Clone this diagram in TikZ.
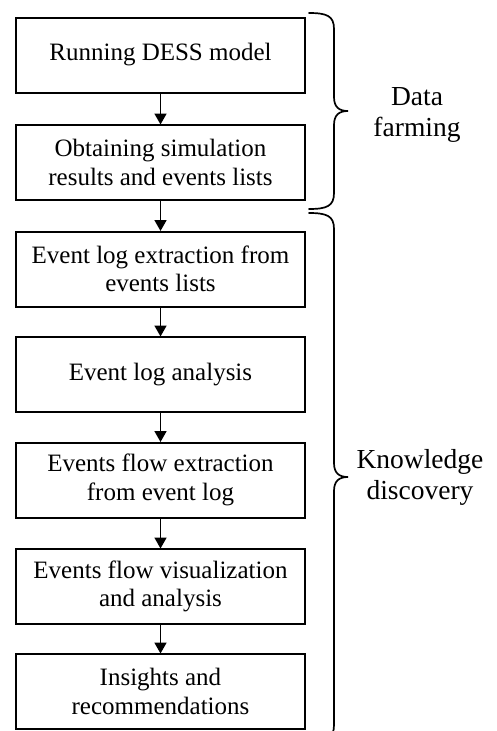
\documentclass[tikz,border=0pt]{standalone}
\usepackage{fontspec}
\setmainfont{Liberation Serif}
\usetikzlibrary{arrows.meta}
\tikzset{
  stepbox/.style={draw, line width=2pt, minimum width=289pt, minimum height=75pt,
    inner sep=0pt, align=center, font=\fontsize{25}{28.5}\selectfont},
  flow/.style={draw, line width=1.8pt, -{Triangle[length=11pt,width=12pt]}, shorten >=-0.5pt},
  bracestyle/.style={draw, line width=1.7pt, line cap=round},
  bracelabel/.style={align=center, inner sep=0pt, font=\fontsize{27.5}{31}\selectfont}
}
\newcommand{\mybrace}[3]{%
  \draw[bracestyle] (309,#1) .. controls (327,#1) and (334,#1+3) .. (334,#1+16)
    -- (334,#3-14) .. controls (334,#3-4) and (339,#3) .. (348,#3)
    .. controls (339,#3) and (334,#3+4) .. (334,#3+14)
    -- (334,#2-16) .. controls (334,#2-3) and (327,#2) .. (309,#2);
}
\begin{document}
\begin{tikzpicture}[x=1pt,y=-1pt]
\useasboundingbox (0,0) rectangle (497,731);
\clip (0,0) rectangle (497,731);
\node[stepbox] (b1) at (160.5,55) {Running DESS model};
\node[stepbox] (b2) at (160.5,162.5) {Obtaining simulation\\results and events lists};
\node[stepbox] (b3) at (160.5,269) {Event log extraction from\\events lists};
\node[stepbox] (b4) at (160.5,374.5) {Event log analysis};
\node[stepbox] (b5) at (160.5,480) {Events flow extraction\\from event log};
\node[stepbox] (b6) at (160.5,586.5) {Events flow visualization\\and analysis};
\node[stepbox] (b7) at (160.5,691.5) {Insights and\\recommendations};
\draw[flow] (b1) -- (b2);
\draw[flow] (b2) -- (b3);
\draw[flow] (b3) -- (b4);
\draw[flow] (b4) -- (b5);
\draw[flow] (b5) -- (b6);
\draw[flow] (b6) -- (b7);
\mybrace{13}{209}{111}
\mybrace{213}{741}{477}
\node[bracelabel] (l1) at (417,115) {Data\\farming};
\node[bracelabel] (l2) at (420,477) {Knowledge\\discovery};
\end{tikzpicture}
\end{document}
